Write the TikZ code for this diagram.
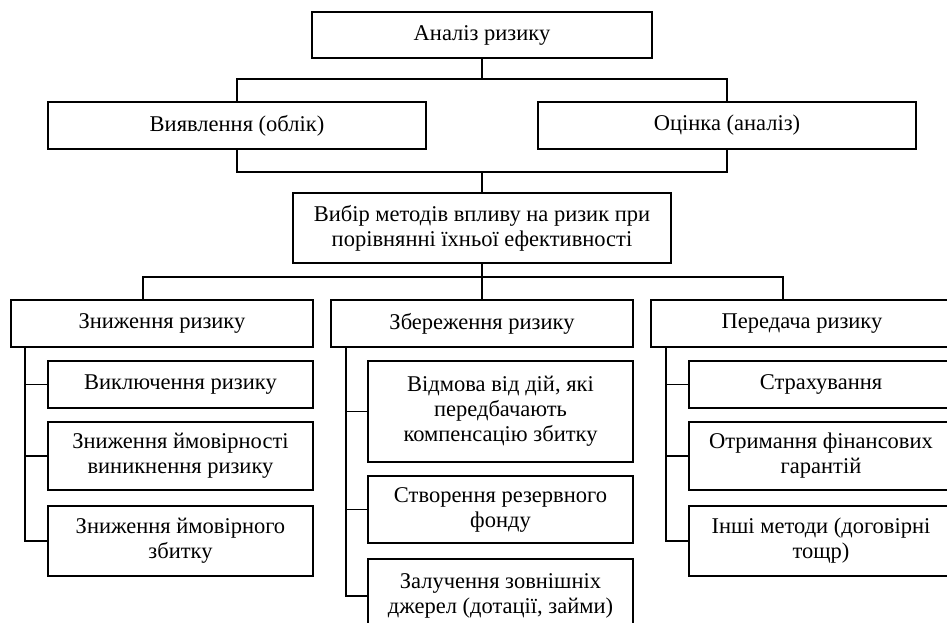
\documentclass[tikz,border=0pt]{standalone}
\usepackage{fontspec}
\setmainfont{Liberation Serif}
\usetikzlibrary{positioning}

\tikzset{
  blok/.style={draw, line width=1.8pt, inner sep=2pt, align=center,
    font=\fontsize{22.5}{25}\selectfont},
  vid/.style={line width=1.8pt},
}

\begin{document}
\begin{tikzpicture}[x=1pt, y=-1pt]
        \useasboundingbox (0,0) rectangle (947,623);

        % верхній рівень
        \node[blok, minimum width=340pt, minimum height=46pt] (analiz) at (482,35) {Аналіз ризику};
        \node[blok, minimum width=378pt, minimum height=47pt] (vyjav) at (237,125.5) {Виявлення (облік)};
        \node[blok, minimum width=378pt, minimum height=47pt] (ocin) at (727,125.5) {Оцінка (аналіз)};
        \node[blok, minimum width=378pt, minimum height=70pt] (vybir) at (482,228)
          {Вибір методів впливу на ризик при\\порівнянні їхньої ефективності};

        % методи
        \node[blok, minimum width=302pt, minimum height=47pt] (znyzh) at (162,323.5) {Зниження ризику};
        \node[blok, minimum width=302pt, minimum height=47pt] (zber) at (482,323.5) {Збереження ризику};
        \node[blok, minimum width=302pt, minimum height=47pt] (pered) at (802,323.5) {Передача ризику};

        % зниження
        \node[blok, minimum width=265pt, minimum height=47pt] (z1) at (180.5,384.5) {Виключення ризику};
        \node[blok, minimum width=265pt, minimum height=68pt] (z2) at (180.5,456) {Зниження ймовірності\\виникнення ризику};
        \node[blok, minimum width=265pt, minimum height=70pt] (z3) at (180.5,541) {Зниження ймовірного\\збитку};

        % збереження
        \node[blok, minimum width=265pt, minimum height=101pt] (s1) at (500.5,411.5)
          {Відмова від дій, які\\передбачають\\компенсацію збитку};
        \node[blok, minimum width=265pt, minimum height=67pt] (s2) at (500.5,509.5) {Створення резервного\\фонду};
        \node[blok, minimum width=265pt, minimum height=74pt] (s3) at (500.5,596)
          {Залучення зовнішніх\\джерел (дотації, займи)};

        % передача
        \node[blok, minimum width=264pt, minimum height=47pt] (p1) at (821,384.5) {Страхування};
        \node[blok, minimum width=264pt, minimum height=68pt] (p2) at (821,456) {Отримання фінансових\\гарантій};
        \node[blok, minimum width=264pt, minimum height=70pt] (p3) at (821,541) {Інші методи (договірні\\тощр)};

        % з'єднання верхніх рівнів
        \coordinate (j1) at (482,79);
        \coordinate (j2) at (482,172);
        \coordinate (j3) at (482,277);
        \draw[vid] (analiz.south) -- (j1);
        \draw[vid] (vyjav.north) |- (j1) -| (ocin.north);
        \draw[vid] (vyjav.south) |- (j2) -| (ocin.south);
        \draw[vid] (j2) -- (vybir.north);
        \draw[vid] (vybir.south) -- (j3);
        \draw[vid] ([xshift=-19pt]znyzh.north) |- (j3) -| ([xshift=-19pt]pered.north);
        \draw[vid] (j3) -- (zber.north);

        % стовбури до підпунктів
        \coordinate (zt) at ([xshift=15pt]znyzh.south west);
        \coordinate (st) at ([xshift=16pt]zber.south west);
        \coordinate (pt) at ([xshift=16pt]pered.south west);
        \draw[vid] (zt) |- (z3.west);
        \draw[vid] (st) |- (s3.west);
        \draw[vid] (pt) |- (p3.west);
        \foreach \b/\t in {z1/zt, z2/zt, s1/st, s2/st, p1/pt, p2/pt}
          \draw[vid] (\b.west) -- (\b.west -| \t);
\end{tikzpicture}
\end{document}
